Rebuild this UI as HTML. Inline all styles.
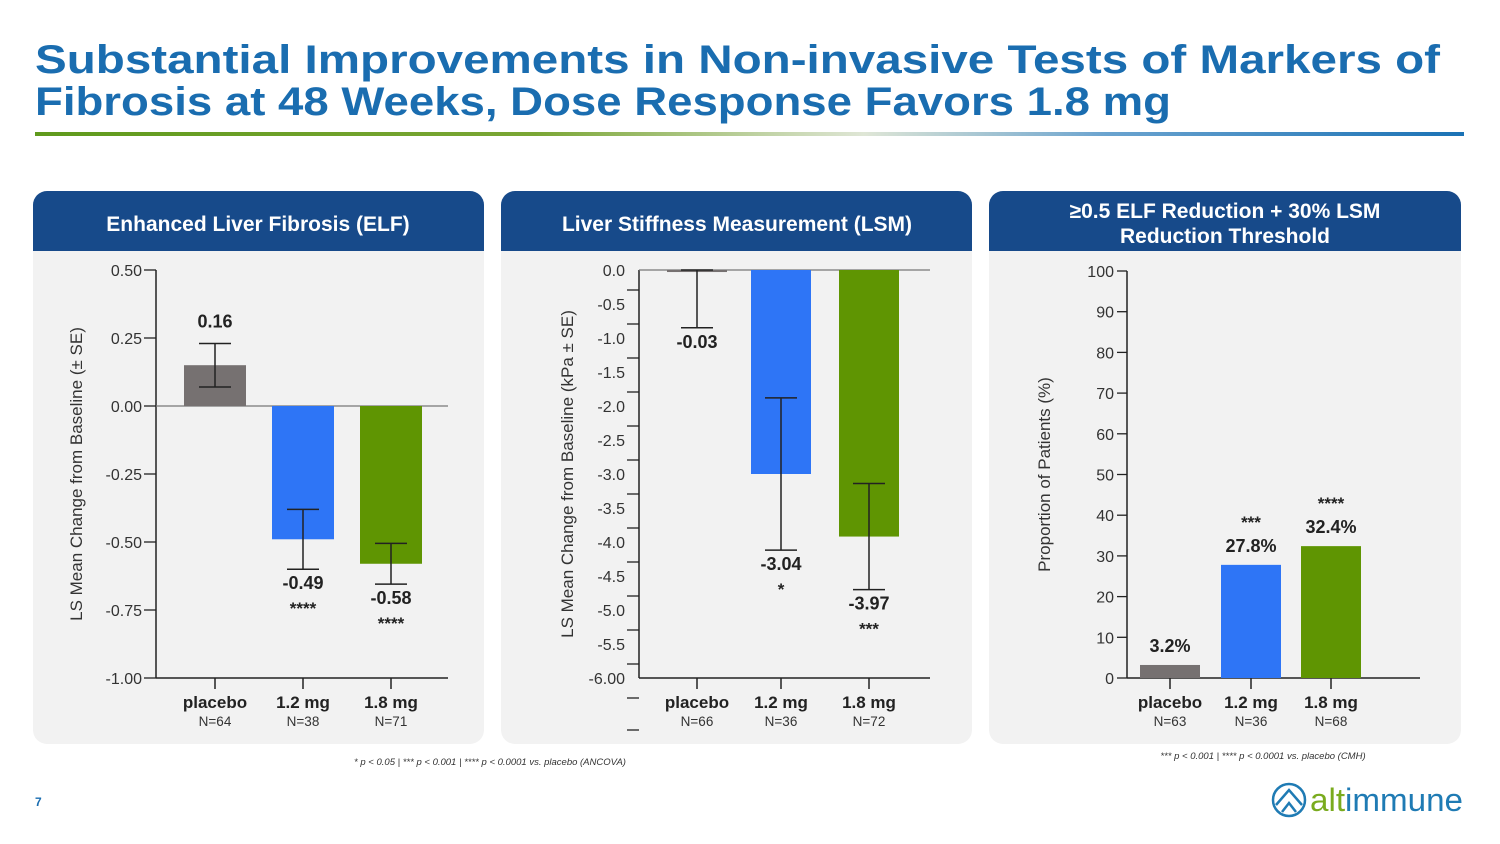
<!DOCTYPE html>
<html><head><meta charset="utf-8"><style>
html,body{margin:0;padding:0;background:#fff;}
svg{display:block;font-family:"Liberation Sans",sans-serif;}
</style></head><body>
<svg id="s" width="1500" height="844" viewBox="0 0 1500 844" xmlns="http://www.w3.org/2000/svg">
<defs>
<linearGradient id="ul" x1="0" x2="1" y1="0" y2="0">
<stop offset="0" stop-color="#5f9a1c"/><stop offset="0.35" stop-color="#7aa634"/><stop offset="0.58" stop-color="#dfe6d6"/><stop offset="0.75" stop-color="#6aa3cf"/><stop offset="1" stop-color="#1a72b5"/>
</linearGradient>
</defs>
<text x="35" y="73" font-size="40" font-weight="bold" fill="#1a6db0" textLength="1405" lengthAdjust="spacingAndGlyphs">Substantial Improvements in Non-invasive Tests of Markers of</text>
<text x="35" y="115" font-size="40" font-weight="bold" fill="#1a6db0" textLength="1136" lengthAdjust="spacingAndGlyphs">Fibrosis at 48 Weeks, Dose Response Favors 1.8 mg</text>
<rect x="35" y="132" width="1429" height="4" fill="url(#ul)"/>

<g>
<rect x="33" y="191" width="451" height="553" rx="14" fill="#f2f2f2"/>
<path d="M33 251 V205 a14 14 0 0 1 14 -14 H470 a14 14 0 0 1 14 14 V251 Z" fill="#174a8a"/>
<text x="258" y="231" font-size="21" font-weight="bold" fill="#fff" text-anchor="middle">Enhanced Liver Fibrosis (ELF)</text>
<g id="c1"></g>
</g>
<g>
<rect x="501" y="191" width="471" height="553" rx="14" fill="#f2f2f2"/>
<path d="M501 251 V205 a14 14 0 0 1 14 -14 H958 a14 14 0 0 1 14 14 V251 Z" fill="#174a8a"/>
<text x="737" y="231" font-size="21" font-weight="bold" fill="#fff" text-anchor="middle">Liver Stiffness Measurement (LSM)</text>
<g id="c2"></g>
<line x1="627" x2="639" y1="730" y2="730" stroke="#222" stroke-width="1.3"/>
</g>
<g>
<rect x="989" y="191" width="472" height="553" rx="14" fill="#f2f2f2"/>
<path d="M989 251 V205 a14 14 0 0 1 14 -14 H1447 a14 14 0 0 1 14 14 V251 Z" fill="#174a8a"/>
<text x="1225" y="218" font-size="21" font-weight="bold" fill="#fff" text-anchor="middle">≥0.5 ELF Reduction + 30% LSM</text>
<text x="1225" y="243" font-size="21" font-weight="bold" fill="#fff" text-anchor="middle">Reduction Threshold</text>
<g id="c3"></g>
</g>

<text x="490" y="765" font-size="9.5" font-style="italic" fill="#333" text-anchor="middle">* p  &lt; 0.05 | *** p  &lt; 0.001 |  **** p  &lt; 0.0001 vs. placebo (ANCOVA)</text>
<text x="1263" y="759" font-size="9.5" font-style="italic" fill="#333" text-anchor="middle">*** p  &lt; 0.001 | **** p  &lt; 0.0001 vs. placebo (CMH)</text>
<text x="35" y="806" font-size="12" font-weight="bold" fill="#1a6db0">7</text>
<g>
<circle cx="1289" cy="800" r="16" fill="none" stroke="#1f7bb4" stroke-width="2.5"/>
<path d="M1276 805 L1289 790 L1302 805 M1282 812 L1289 803 L1296 812" fill="none" stroke="#1f7bb4" stroke-width="2.5"/>
<text x="1310" y="811" font-size="32" fill="#7aab1e" textLength="153" lengthAdjust="spacingAndGlyphs">alt<tspan fill="#1f7bb4">immune</tspan></text>
</g>
</svg>
<script>
const NS="http://www.w3.org/2000/svg";
// ---- data ----
const cats=["placebo","1.2 mg","1.8 mg"];
const colors=["#767171","#2e75f6","#5f9502"];
const elfN=["N=64","N=38","N=71"];
const elfVals=[0.15,-0.49,-0.58];
const elfSE=[0.08,0.11,0.075];
const elfLabels=["0.16","-0.49","-0.58"];
const elfStars=["","****","****"];
const elfTicks=["0.50","0.25","0.00","-0.25","-0.50","-0.75","-1.00"];
const lsmN=["N=66","N=36","N=72"];
const lsmVals=[-0.03,-3.0,-3.92];
const lsmSE=[0.82,1.12,0.78];
const lsmLabels=["-0.03","-3.04","-3.97"];
const lsmStars=["","*","***"];
const lsmTicks=["0.0","-0.5","-1.0","-1.5","-2.0","-2.5","-3.0","-3.5","-4.0","-4.5","-5.0","-5.5","-6.00"];
const cmbN=["N=63","N=36","N=68"];
const cmbVals=[3.2,27.8,32.4];
const cmbLabels=["3.2%","27.8%","32.4%"];
const cmbStars=["","***","****"];
const cmbTicks=["100","90","80","70","60","50","40","30","20","10","0"];

function el(p,t,a,txt){const e=document.createElementNS(NS,t);for(const k in a)e.setAttribute(k,a[k]);if(txt!=null)e.textContent=txt;p.appendChild(e);return e;}

function chart(gid,o){
  const g=document.getElementById(gid);
  const y=v=>o.yTop+(o.max-v)/(o.max-o.min)*(o.yBot-o.yTop);
  const at=el(g,"text",{x:0,y:0,"font-size":17,fill:"#333","text-anchor":"middle",transform:`translate(${o.titleX},${(o.yTop+o.yBot)/2}) rotate(-90)`},o.title);
  
  
  el(g,"line",{x1:o.ax,x2:o.ax,y1:o.yTop,y2:o.yBot,stroke:"#222","stroke-width":1.5});
  el(g,"line",{x1:o.ax,x2:o.axEnd,y1:o.yBot,y2:o.yBot,stroke:"#222","stroke-width":1.5});
  o.ticks.forEach((t,i)=>{
    const v=o.max-i*(o.max-o.min)/(o.ticks.length-1);
    const ty=y(v);
    const tk=el(g,"line",{x1:o.ax-o.tickLen,x2:o.ax,y1:ty+o.tickOff,y2:ty+o.tickOff,stroke:"#222","stroke-width":1.3});
    
    
    const tl=el(g,"text",{x:o.lblX,y:ty+6,"font-size":16,fill:"#333","text-anchor":"end"},t);
    
    
  });
  if(o.zeroLine!=null) el(g,"line",{x1:o.ax,x2:o.axEnd,y1:y(o.zeroLine),y2:y(o.zeroLine),stroke:"#777","stroke-width":1.2});
  const z=y(o.base);
  cats.forEach((c,i)=>{
    const cx=o.cx[i],v=o.vals[i],vy=y(v);
    const b=el(g,"rect",{x:cx-o.bw/2,y:Math.min(vy,z),width:o.bw,height:Math.abs(vy-z),fill:colors[i]});
    
    
    let lblY;
    if(o.se){
      const hi=v<0?Math.min(v+o.se[i],0):v+o.se[i],lo=v-o.se[i];
      const y1=y(hi),y2=y(lo);
      const eb=el(g,"path",{d:`M${cx} ${y1}V${y2}M${cx-16} ${y1}H${cx+16}M${cx-16} ${y2}H${cx+16}`,stroke:"#222","stroke-width":1.5,fill:"none"});
      
      
      lblY=v>0?y1-16:y2+20;
    } else lblY=vy-13;
    const vl=el(g,"text",{x:cx,y:lblY,"font-size":18,"font-weight":"bold",fill:"#222","text-anchor":"middle"},o.labels[i]);
    
    
    if(o.stars[i]){
      const sy=o.se&&v<0?lblY+25:lblY-24;
      const st=el(g,"text",{x:cx,y:sy,"font-size":17,"font-weight":"bold",fill:"#222","text-anchor":"middle"},o.stars[i]);
      
      
    }
    el(g,"line",{x1:cx,x2:cx,y1:o.yBot,y2:o.yBot+11,stroke:"#222","stroke-width":1.5});
    const xl=el(g,"text",{x:cx,y:o.yBot+30,"font-size":17,"font-weight":"bold",fill:"#222","text-anchor":"middle"},c);
    
    
    const nl=el(g,"text",{x:cx,y:o.yBot+48,"font-size":13.5,fill:"#333","text-anchor":"middle"},o.n[i]);
    
    
  });
}
chart("c1",{yTop:270,yBot:678,max:0.5,min:-1,base:0,ax:156,axEnd:448,tickLen:12,tickOff:0,lblX:142,titleX:82,
  title:"LS Mean Change from Baseline (± SE)",ticks:elfTicks,zeroLine:0,cx:[215,303,391],bw:62,vals:elfVals,se:elfSE,labels:elfLabels,stars:elfStars,n:elfN});
chart("c2",{yTop:270,yBot:678,max:0,min:-6,base:0,ax:639,axEnd:930,tickLen:12,tickOff:20,lblX:625,titleX:573,
  title:"LS Mean Change from Baseline (kPa ± SE)",ticks:lsmTicks,zeroLine:0,cx:[697,781,869],bw:60,vals:lsmVals,se:lsmSE,labels:lsmLabels,stars:lsmStars,n:lsmN});
chart("c3",{yTop:271,yBot:678,max:100,min:0,base:0,ax:1127,axEnd:1420,tickLen:10,tickOff:0,lblX:1114,titleX:1050,
  title:"Proportion of Patients (%)",ticks:cmbTicks,zeroLine:null,cx:[1170,1251,1331],bw:60,vals:cmbVals,se:null,labels:cmbLabels,stars:cmbStars,n:cmbN});
</script>
</body></html>
